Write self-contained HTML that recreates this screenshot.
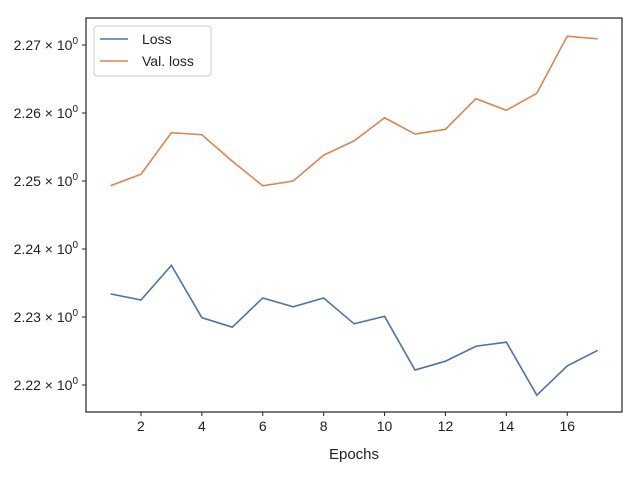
<!DOCTYPE html>
<html><head><meta charset="utf-8"><style>
html,body{margin:0;padding:0;background:#fff;width:640px;height:480px;overflow:hidden}
svg{font-family:"Liberation Sans","DejaVu Sans",sans-serif}
</style></head><body>
<svg id="chart" width="640" height="480" viewBox="0 0 640 480" xmlns="http://www.w3.org/2000/svg"></svg>
<script>
const epochs=[1,2,3,4,5,6,7,8,9,10,11,12,13,14,15,16,17];
const lossValues=[2.2334,2.2325,2.2376,2.2299,2.2285,2.2328,2.2315,2.2328,2.2290,2.2301,2.2222,2.2235,2.2257,2.2263,2.2185,2.2228,2.2251];
const valLossValues=[2.2493,2.2510,2.2571,2.2568,2.2529,2.2493,2.2500,2.2538,2.2559,2.2593,2.2569,2.2576,2.2621,2.2604,2.2629,2.2713,2.2709];
const xTicks=[2,4,6,8,10,12,14,16];
const yTicks=[2.22,2.23,2.24,2.25,2.26,2.27];
const yTickLabels=["2.22","2.23","2.24","2.25","2.26","2.27"];

const L=86,R=622,T=18,B=412;
const xs=v=>110.5+(v-1)*30.45;
const ys=v=>385-(v-2.22)*6800;
const NS="http://www.w3.org/2000/svg";
const svg=document.getElementById('chart');
function mk(tag,attrs,parent){const e=document.createElementNS(NS,tag);for(const k in attrs)e.setAttribute(k,attrs[k]);(parent||svg).appendChild(e);return e;}

const frame=mk('rect',{x:L,y:T,width:R-L,height:B-T,fill:'none',stroke:'#222','stroke-width':1.2});



xTicks.forEach(t=>{
  const x=xs(t);
  const tk=mk('line',{x1:x,x2:x,y1:B,y2:B+4,stroke:'#222'});
  
  
  const tx=mk('text',{x:x,y:B+19,'text-anchor':'middle','font-size':14,fill:'#222'});
  tx.textContent=t;
  
  
});
yTicks.forEach((t,i)=>{
  const y=ys(t);
  const tk=mk('line',{x1:L-4,x2:L,y1:y,y2:y,stroke:'#222'});
  
  
  const tx=mk('text',{x:L-8,y:y+5,'text-anchor':'end','font-size':14,fill:'#222'});
  tx.textContent=yTickLabels[i]+" \u00d7 10";
  const sup=mk('tspan',{dy:-6,'font-size':10},tx);
  sup.textContent="0";
  
  
});
const xl=mk('text',{x:(L+R)/2,y:459,'text-anchor':'middle','font-size':15,fill:'#222'});
xl.textContent='Epochs';



function series(vals,color,name){
  const p=mk('polyline',{points:epochs.map((e,i)=>xs(e)+','+ys(vals[i])).join(' '),fill:'none',stroke:color,'stroke-width':1.6});
  
  
}
series(lossValues,'#4c72b0','loss-line');
series(valLossValues,'#dd8452','val-loss-line');

const lg=mk('g',{});


mk('rect',{x:94,y:26,width:117,height:50,rx:3,fill:'#fff','fill-opacity':0.8,stroke:'#ccc'},lg);
mk('line',{x1:100,x2:128,y1:39,y2:39,stroke:'#4c72b0','stroke-width':1.6},lg);
mk('line',{x1:100,x2:128,y1:61,y2:61,stroke:'#dd8452','stroke-width':1.6},lg);
const t1=mk('text',{x:142,y:44,'font-size':14,fill:'#222'},lg);t1.textContent='Loss';


const t2=mk('text',{x:142,y:66,'font-size':14,fill:'#222'},lg);t2.textContent='Val. loss';


</script>
</body></html>
